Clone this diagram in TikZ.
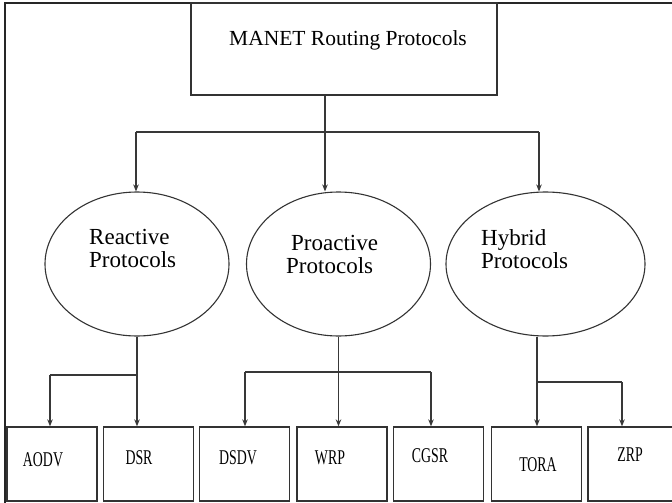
\documentclass[tikz,border=0pt]{standalone}
\usepackage{fontspec}
\usepackage{graphicx}
\setmainfont{Liberation Serif}
\usetikzlibrary{arrows.meta,shapes.geometric}
\begin{document}
\begin{tikzpicture}[x=1pt,y=-1pt,
  edge/.style={draw=black!78, line width=1.1pt},
  arr/.style={edge,-{Stealth[length=7pt,width=5.5pt]}},
  boxnode/.style={draw=black!80, line width=1.3pt, rectangle, inner sep=0pt},
  leaf/.style={boxnode, minimum width=90pt, minimum height=74pt},
  oval/.style={draw=black!80, line width=1.1pt, ellipse, inner sep=0pt,
    minimum width=184pt, minimum height=144pt},
  titletxt/.style={inner sep=0pt, font=\fontsize{21.5}{22}\selectfont},
  ovaltxt/.style={inner sep=0pt, anchor=west, align=left,
    font=\fontsize{23}{23}\selectfont},
  leaftxt/.style={inner sep=0pt, font=\fontsize{21}{22}\selectfont},
]
\useasboundingbox (0,0) rectangle (672,503);
\fill[white] (0,0) rectangle (672,503);

% outer frame (left and top edges)
\draw[black!85, line width=1.6pt] (5,503) -- (5,3) -- (672,3);

% root
\node[boxnode, minimum width=306pt, minimum height=92pt] (root) at (344,49) {};
\node[titletxt] (roottxt) at (348,40) {MANET Routing Protocols};

% protocol families
\node[oval] (rea) at (137,264) {};
\node[oval] (pro) at (338.5,264) {};
\node[oval, minimum width=199pt] (hyb) at (545.5,264) {};
\node[ovaltxt] (reatxt) at (89,248) {Reactive\\Protocols};
\node[ovaltxt] (protxt) at (286,254) {\hspace{5pt}Proactive\\Protocols};
\node[ovaltxt] (hybtxt) at (481,249) {Hybrid\\Protocols};

% individual protocols
\node[leaf] (aodv) at (52,464) {};
\node[leaf] (dsr)  at (148.5,464) {};
\node[leaf] (dsdv) at (244.5,464) {};
\node[leaf] (wrp)  at (342,464) {};
\node[leaf] (cgsr) at (438.5,464) {};
\node[leaf] (tora) at (536.5,464) {};
\node[leaf] (zrp)  at (633,464) {};
\node[leaftxt] (aodvtxt) at (43,460) {\scalebox{0.66}[1]{AODV}};
\node[leaftxt] (dsrtxt)  at (139,458) {\scalebox{0.66}[1]{DSR}};
\node[leaftxt] (dsdvtxt) at (238,458) {\scalebox{0.66}[1]{DSDV}};
\node[leaftxt] (wrptxt)  at (330,458) {\scalebox{0.66}[1]{WRP}};
\node[leaftxt] (cgsrtxt) at (430,456) {\scalebox{0.66}[1]{CGSR}};
\node[leaftxt] (toratxt) at (538,465) {\scalebox{0.66}[1]{TORA}};
\node[leaftxt] (zrptxt)  at (630,455) {\scalebox{0.66}[1]{ZRP}};

% root to families
\coordinate (rootj) at (325,132);
\coordinate (busL) at (136,132);
\coordinate (busR) at (539,132);
\draw[edge] (root.south -| rootj) -- (rootj);
\draw[edge] (busL) -- (busR);
\draw[arr] (busL) -- (busL |- rea.north);
\draw[arr] (rootj) -- (rootj |- pro.north);
\draw[arr] (busR) -- (busR |- hyb.north);

% reactive branch
\coordinate (rj) at (137,375);
\coordinate (aj) at (50,375);
\draw[edge] (rea.south) -- (rj) -- (aj);
\draw[arr] (aj) -- (aj |- aodv.north);
\draw[arr] (rj) -- (rj |- dsr.north);

% proactive branch
\coordinate (pl) at (245,372);
\coordinate (pr) at (431,372);
\draw[arr] (pro.south) -- (pro.south |- wrp.north);
\draw[edge] (pl) -- (pr);
\draw[arr] (pl) -- (pl |- dsdv.north);
\draw[arr] (pr) -- (pr |- cgsr.north);

% hybrid branch
\coordinate (hj) at (537,382);
\coordinate (hr) at (622,382);
\draw[arr] (hj |- hyb.south) -- (hj |- tora.north);
\draw[edge] (hj) -- (hr);
\draw[arr] (hr) -- (hr |- zrp.north);
\end{tikzpicture}
\end{document}
